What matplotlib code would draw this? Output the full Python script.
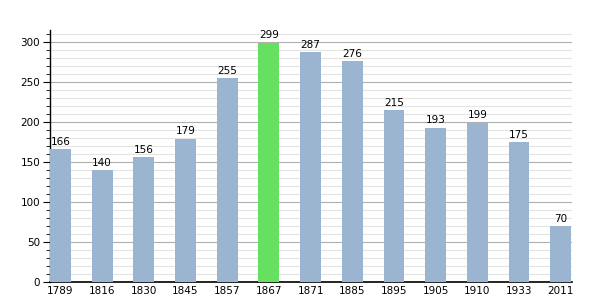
import matplotlib
matplotlib.use("Agg")
import matplotlib.pyplot as plt
from matplotlib.ticker import MultipleLocator

years = ["1789", "1816", "1830", "1845", "1857", "1867", "1871",
         "1885", "1895", "1905", "1910", "1933", "2011"]
population = [166, 140, 156, 179, 255, 299, 287, 276, 215, 193, 199, 175, 70]
highlight = "1867"

fig = plt.figure(figsize=(6, 3), dpi=100)
ax = fig.add_axes([0.0833, 0.06, 0.87, 0.84])

colors = ["#66e060" if y == highlight else "#9bb4cf" for y in years]
x = list(range(len(years)))
ax.bar(x, population, width=0.5, color=colors, zorder=3)

for xi, v in zip(x, population):
    ax.text(xi, v + 3, str(v), ha="center", va="bottom", fontsize=7.5, zorder=4)

ax.set_xlim(-0.25, len(years) - 0.73)
ax.set_ylim(0, 315)
ax.set_xticks(x)
ax.set_xticklabels(years, fontsize=7.5)
ax.tick_params(axis="x", length=0, pad=3)

ax.yaxis.set_major_locator(MultipleLocator(50))
ax.yaxis.set_minor_locator(MultipleLocator(10))
ax.tick_params(axis="y", which="major", length=5, labelsize=7.5, pad=2)
ax.tick_params(axis="y", which="minor", length=3)
ax.grid(axis="y", which="major", color="#b0b0b0", linewidth=0.8, zorder=0)
ax.grid(axis="y", which="minor", color="#e4e4e4", linewidth=0.8, zorder=0)

for side in ["top", "right"]:
    ax.spines[side].set_visible(False)
ax.spines["left"].set_linewidth(1)
ax.spines["bottom"].set_linewidth(1.2)

fig.savefig("out.png", dpi=100)
